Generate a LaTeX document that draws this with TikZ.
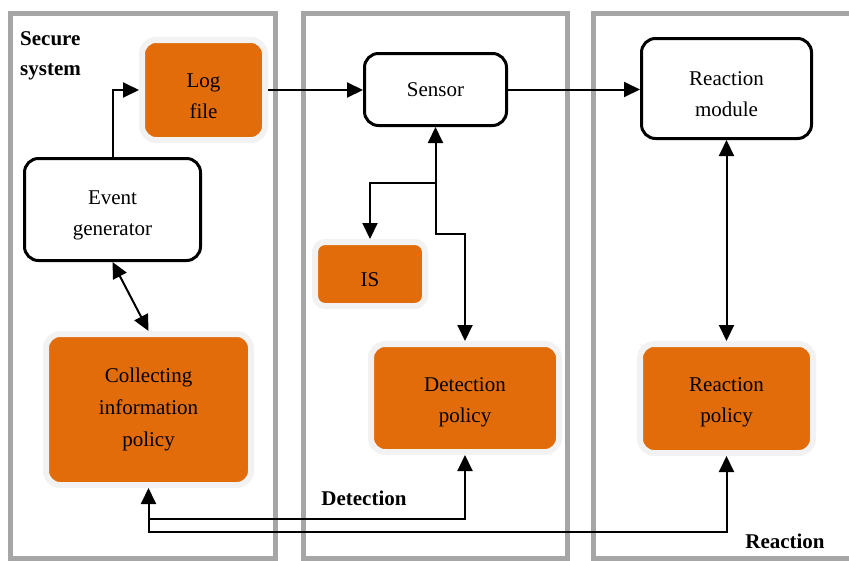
\documentclass[tikz,border=0pt]{standalone}
\usepackage{fontspec}
\setmainfont{Liberation Serif}
\usetikzlibrary{arrows.meta}
\definecolor{org}{RGB}{226,108,10}
\definecolor{halo}{RGB}{242,242,242}
\definecolor{panel}{RGB}{166,166,166}
\newcommand\topstrut[1]{\rule{0pt}{#1pt}}
\newcommand\botstrut{\rule[-5pt]{0pt}{5pt}}
\begin{document}
\begin{tikzpicture}[x=1pt,y=-1pt,
  every node/.style={font=\fontsize{21}{31}\selectfont, align=center, inner sep=0pt},
  obox/.style={draw=halo, line width=6pt, fill=org, rounded corners=14pt},
  wbox/.style={draw=black, line width=3pt, fill=white, rounded corners=14pt},
  conn/.style={line width=2pt, >={Triangle[length=16pt,width=15pt]}},
  lab/.style={font=\fontsize{21}{30.5}\selectfont\bfseries},
  pnl/.style={draw=panel, line width=5pt}]
\useasboundingbox (0,0) rectangle (849,560);
% panels
\draw[pnl] (10.5,13) rectangle (275.5,558.5);
\draw[pnl] (303.5,13) rectangle (567.5,558.5);
\draw[pnl] (593.5,13) rectangle (870,558.5);
% nodes
\node[obox, minimum width=123pt, minimum height=100pt] (log) at (203.5,90) {\topstrut{30.5}Log\\file\botstrut};
\node[wbox, minimum width=176pt, minimum height=102pt] (evgen) at (112.5,209.5) {\topstrut{25}Event\\generator\botstrut};
\node[obox, minimum width=205pt, minimum height=151pt, font=\fontsize{21}{32}\selectfont] (coll) at (148.5,409.5) {Collecting\\information\\policy};
\node[wbox, minimum width=142pt, minimum height=72pt] (sensor) at (435.5,89.5) {Sensor};
\node[obox, minimum width=110pt, minimum height=64pt, rounded corners=10pt] (is) at (370,274) {\topstrut{25.4}IS};
\node[obox, minimum width=188pt, minimum height=108pt] (det) at (465,398) {\topstrut{22}Detection\\policy\botstrut};
\node[wbox, minimum width=170pt, minimum height=100pt] (rmod) at (726.5,88.5) {\topstrut{29}Reaction\\module\botstrut};
\node[obox, minimum width=173pt, minimum height=109pt] (rpol) at (726.5,398.5) {\topstrut{22.4}Reaction\\policy\botstrut};
% labels
\node[lab, align=left, anchor=west] (sec) at (20,56) {Secure\\system};
\node[lab] (detl) at (364,498) {Detection};
\node[lab] (reacl) at (785,541) {Reaction};
% junction coordinates
\coordinate (j1) at (435.5,183);
\coordinate (j2) at (435.5,234);
\coordinate (j3) at (148.5,532);
\coordinate (j4) at (148.5,519);
% connectors
\draw[conn,->] (evgen.north) |- (log.west);
\draw[conn,->] (log.east) -- (log.east -| sensor.west);
\draw[conn,->] (sensor.east) -- (sensor.east -| rmod.west);
\draw[conn,<->] (is.north) |- (j1) -- (sensor.south);
\draw[conn,->] (j1) -- (j2) -| (det.north);
\draw[conn,<->] (evgen.south) -- (coll.north);
\draw[conn,<->] (coll.south) -- (j3) -| (rpol.south);
\draw[conn,->] (j4) -| (det.south);
\draw[conn,<->] (rmod.south) -- (rpol.north);
\end{tikzpicture}
\end{document}
